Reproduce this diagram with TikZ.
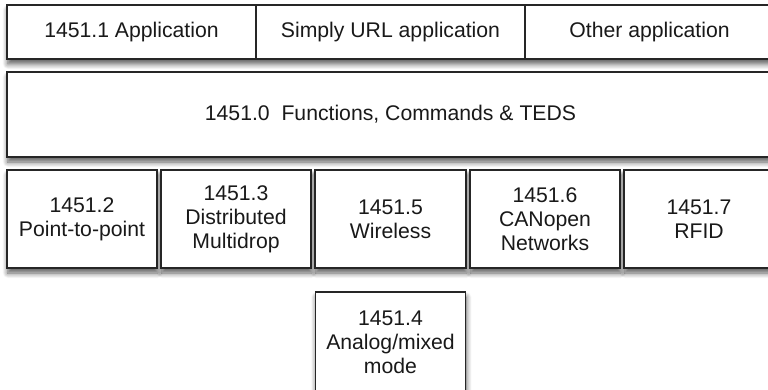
\documentclass[tikz,border=0pt]{standalone}
\usepackage{fontspec}
\setsansfont{Liberation Sans}
\usetikzlibrary{positioning,shadows.blur}

\begin{document}
\begin{tikzpicture}[
    every node/.style={
        shape=rectangle,
        text centered,
        font=\sffamily\fontsize{10.6}{12}\selectfont,
        inner sep=0pt,
        outer sep=0pt,
        color=black!90,
    },
    box/.style={
        draw=black!85,
        line width=0.75pt,
        fill=white,
    },
    shadowed/.style={
        blur shadow={shadow xshift=0.4pt, shadow yshift=-2.5pt,
                     shadow blur radius=2.6pt, shadow blur steps=8,
                     shadow opacity=65},
    },
    appbox/.style={box, minimum height=27pt},
    busbox/.style={box, shadowed, minimum width=75pt, minimum height=49pt,
                   align=center},
]

\useasboundingbox (0,0) rectangle (384pt,-195pt);

% application layer
\node[appbox, shadowed, minimum width=383.5pt, anchor=north west] (approw)
    at (3.5pt,-2.5pt) {};
\node[appbox, minimum width=124.5pt, anchor=west] (app1) at (approw.west)
    {1451.1 Application};
\node[appbox, minimum width=134.5pt, right=0pt of app1] (app2)
    {Simply URL application};
\node[appbox, minimum width=124.5pt, right=0pt of app2] (app3)
    {Other application};

% common layer
\node[box, shadowed, minimum width=383.5pt, minimum height=42.5pt,
      below=6.5pt of approw.south west, anchor=north west] (teds)
    {1451.0\ \ Functions, Commands \& TEDS};

% physical layers
\node[busbox, below=6.5pt of teds.south west, anchor=north west] (p2p)
    {1451.2\\Point-to-point};
\node[busbox, right=2pt of p2p] (multidrop)
    {1451.3\\Distributed\\Multidrop};
\node[busbox, right=2pt of multidrop, minimum width=75.5pt] (wireless)
    {1451.5\\Wireless};
\node[busbox, right=2pt of wireless] (canopen)
    {1451.6\\CANopen\\Networks};
\node[busbox, right=2pt of canopen] (rfid)
    {1451.7\\RFID};

\node[busbox, below=12pt of wireless, minimum height=50pt] (analog)
    {1451.4\\Analog/mixed\\mode};

\end{tikzpicture}
\end{document}
